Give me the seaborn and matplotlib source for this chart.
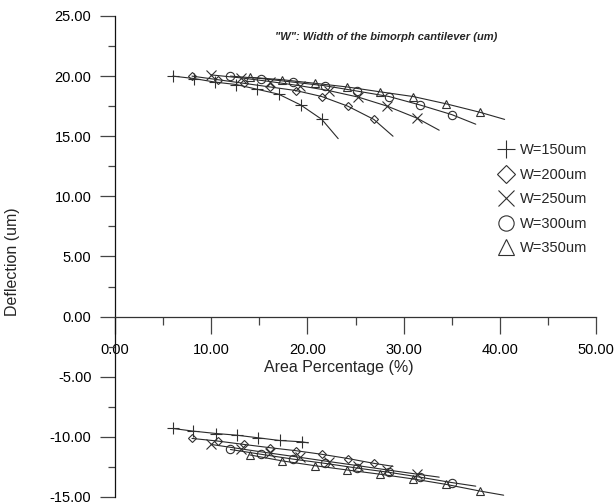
import matplotlib
matplotlib.use("Agg")
import matplotlib.pyplot as plt
from matplotlib.lines import Line2D
from matplotlib.ticker import MultipleLocator, FormatStrFormatter
import seaborn as sns
import pandas as pd

# ---------------- data ----------------
widths = ["W=150um", "W=200um", "W=250um", "W=300um", "W=350um"]
markers = ["+", "D", "x", "o", "^"]

# upper branch (positive deflection): marker points
x150_top = [6.0, 8.2, 10.4, 12.6, 14.8, 17.0, 19.3, 21.5]
y150_top = [20.0, 19.8, 19.5, 19.3, 18.9, 18.5, 17.6, 16.4]
x200_top = [8.0, 10.7, 13.4, 16.1, 18.8, 21.5, 24.2, 26.9]
y200_top = [20.0, 19.7, 19.4, 19.1, 18.8, 18.3, 17.5, 16.4]
x250_top = [10.0, 13.1, 16.1, 19.2, 22.2, 25.3, 28.3, 31.4]
y250_top = [20.1, 19.85, 19.55, 19.2, 18.8, 18.25, 17.5, 16.5]
x300_top = [12.0, 15.2, 18.5, 21.8, 25.2, 28.5, 31.7, 35.0]
y300_top = [20.0, 19.8, 19.5, 19.2, 18.75, 18.3, 17.6, 16.8]
x350_top = [14.0, 17.4, 20.8, 24.1, 27.5, 31.0, 34.4, 37.9]
y350_top = [19.9, 19.7, 19.4, 19.1, 18.7, 18.3, 17.7, 17.0]
# end points of the fitted curves (upper)
xend_top = [23.2, 28.9, 33.7, 37.5, 40.5]
yend_top = [14.8, 15.0, 15.5, 16.0, 16.4]

# lower branch (negative deflection): marker points
x150_bot = [6.0, 8.1, 10.5, 12.65, 14.9, 17.1, 19.4]
y150_bot = [-9.3, -9.52, -9.72, -9.86, -10.08, -10.3, -10.41]
x200_bot = [8.0, 10.7, 13.4, 16.1, 18.8, 21.5, 24.2, 26.9]
y200_bot = [-10.13, -10.35, -10.63, -10.9, -11.15, -11.45, -11.8, -12.2]
x250_bot = [10.0, 13.1, 16.1, 19.2, 22.2, 25.3, 28.3, 31.4]
y250_bot = [-10.63, -11.0, -11.35, -11.7, -12.05, -12.4, -12.75, -13.1]
x300_bot = [12.0, 15.2, 18.5, 21.8, 25.2, 28.5, 31.7, 35.0]
y300_bot = [-11.05, -11.45, -11.85, -12.2, -12.6, -12.95, -13.35, -13.8]
x350_bot = [14.0, 17.4, 20.8, 24.1, 27.5, 31.0, 34.4, 37.9]
y350_bot = [-11.5, -12.0, -12.4, -12.75, -13.1, -13.5, -13.95, -14.5]
# end points of the fitted curves (lower)
xend_bot = [20.1, 28.9, 33.7, 37.5, 40.4]
yend_bot = [-10.5, -12.45, -13.35, -14.1, -14.85]

x_ticks = [0, 10, 20, 30, 40, 50]
y_ticks = [-15, -10, -5, 0, 5, 10, 15, 20, 25]

# ---------------- figure ----------------
sns.set_style("ticks")
plt.rcParams["font.family"] = ["Liberation Sans", "DejaVu Sans"]

fig = plt.figure(figsize=(6.14, 5.04), dpi=100)
ax = fig.add_axes([0.1873, 0.0139, 0.7834, 0.9544])

tops = [(x150_top, y150_top), (x200_top, y200_top), (x250_top, y250_top),
        (x300_top, y300_top), (x350_top, y350_top)]
bots = [(x150_bot, y150_bot), (x200_bot, y200_bot), (x250_bot, y250_bot),
        (x300_bot, y300_bot), (x350_bot, y350_bot)]

line_col = "#2a2a2a"
mk_col = "#303030"
msizes = {"+": 8, "D": 4.5, "x": 7, "o": 6, "^": 6}

for i, name in enumerate(widths):
    for (xs, ys), xe, ye in ((tops[i], xend_top[i], yend_top[i]),
                             (bots[i], xend_bot[i], yend_bot[i])):
        curve = pd.DataFrame({"x": list(xs) + [xe], "y": list(ys) + [ye]})
        sns.lineplot(data=curve, x="x", y="y", ax=ax, sort=False,
                     estimator=None, color=line_col, lw=0.8)
        pts = pd.DataFrame({"x": xs, "y": ys})
        sns.lineplot(data=pts, x="x", y="y", ax=ax, sort=False,
                     estimator=None, linestyle="", marker=markers[i],
                     markersize=msizes[markers[i]], markerfacecolor="none",
                     markeredgecolor=mk_col, markeredgewidth=0.8,
                     color=mk_col)

ax.set_xlim(0, 50)
ax.set_ylim(-15, 25)

for s in ("top", "right"):
    ax.spines[s].set_visible(False)
ax.spines["bottom"].set_position(("data", 0))
ax.spines["left"].set_color("#111111")
ax.spines["bottom"].set_color("#333333")
ax.spines["left"].set_linewidth(0.9)
ax.spines["bottom"].set_linewidth(0.9)

ax.set_xticks(x_ticks)
ax.set_yticks(y_ticks)
ax.xaxis.set_minor_locator(MultipleLocator(5))
ax.yaxis.set_minor_locator(MultipleLocator(2.5))
ax.xaxis.set_major_formatter(FormatStrFormatter("%.2f"))
ax.yaxis.set_major_formatter(FormatStrFormatter("%.2f"))
ax.tick_params(axis="both", which="major", labelsize=10.5, colors="#444444",
               labelcolor="black", width=0.9)
ax.tick_params(axis="y", which="major", length=11, pad=6)
ax.tick_params(axis="y", which="minor", length=5, width=0.9, colors="#444444")
ax.tick_params(axis="x", which="major", length=12, pad=7)
ax.tick_params(axis="x", which="minor", length=6, width=0.9, colors="#444444")

ax.set_xlabel("Area Percentage (%)", fontsize=11.5)
ax.xaxis.set_label_coords(0.466, 0.285)
ax.set_ylabel("Deflection (um)", fontsize=11.5)
ax.yaxis.set_label_coords(-0.198, 0.489)

fig.text(0.629, 0.927, "\"W\": Width of the bimorph cantilever (um)",
         fontsize=8, fontweight="bold", fontstyle="italic", ha="center",
         va="center")

handles = [Line2D([], [], linestyle="", marker=m,
                  markersize={"+": 12.5, "D": 9, "x": 11.5, "o": 11, "^": 11}[m],
                  markerfacecolor="none", markeredgecolor=mk_col,
                  markeredgewidth=0.8) for m in markers]
ax.legend(handles, widths, loc="upper left", bbox_to_anchor=(0.8096, 0.716),
          bbox_transform=fig.transFigure, frameon=False, fontsize=10.5,
          handlelength=1.2, handletextpad=0.4, labelspacing=0.72,
          borderaxespad=0, borderpad=0)

fig.savefig("out.png", dpi=100)
